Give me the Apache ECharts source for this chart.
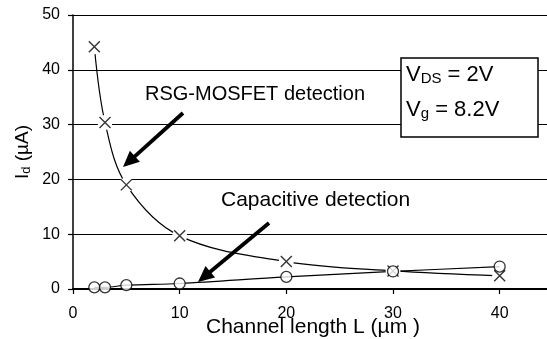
<!DOCTYPE html>
<html><head><meta charset="utf-8">
<script src="https://cdn.jsdelivr.net/npm/echarts@6/dist/echarts.min.js"></script>
<style>html,body{margin:0;padding:0;background:#fff}#c{width:547px;height:339px}</style>
</head><body><div id="c"></div>
<script>
const lengths = [2, 3, 5, 10, 20, 30, 40];
const rsgMosfet = [44.2, 30.4, 19.0, 9.7, 5.0, 3.3, 2.4];
const capacitive = [0.3, 0.3, 0.7, 1.0, 2.2, 3.2, 4.1];
const xTicks = [0, 10, 20, 30, 40];
const yTicks = [0, 10, 20, 30, 40, 50];

const FONT = "'Liberation Sans', Arial, sans-serif";
const pts = (ys) => lengths.map((x, i) => [x, ys[i]]);

function arrow(x1, y1, x2, y2) {
  const dx = x2 - x1, dy = y2 - y1, L = Math.hypot(dx, dy);
  const ux = dx / L, uy = dy / L, hl = 16, hw = 7.5;
  const bx = x2 - ux * hl, by = y2 - uy * hl;
  return [
    {type: 'line', shape: {x1: x1, y1: y1, x2: bx + ux * 2, y2: by + uy * 2}, style: {stroke: '#000', lineWidth: 3.8}},
    {type: 'polygon', shape: {points: [[x2, y2], [bx - uy * hw, by + ux * hw], [bx + uy * hw, by - ux * hw]]}, style: {fill: '#000'}}
  ];
}

const chart = echarts.init(document.getElementById('c'));
chart.setOption({
  animation: false,
  backgroundColor: '#fff',
  grid: {left: 73, top: 15, width: 480, height: 274, containLabel: false, outerBoundsMode: 'none'},
  xAxis: {
    type: 'value', min: 0, max: 45, interval: 10,
    name: 'Channel length L (µm )', nameLocation: 'middle', nameGap: 28, nameMoveOverlap: false,
    nameTextStyle: {fontFamily: FONT, fontSize: 21, color: '#000'},
    axisLine: {onZero: false, lineStyle: {color: '#000', width: 2}},
    axisTick: {show: true, length: 5, lineStyle: {color: '#000', width: 1.2}, customValues: xTicks},
    axisLabel: {fontFamily: FONT, fontSize: 16, color: '#000', margin: 17, customValues: xTicks},
    splitLine: {show: false}
  },
  yAxis: {
    type: 'value', min: 0, max: 50, interval: 10,
    name: '{a|I}{s|d}{a| (µA)}', nameLocation: 'middle', nameGap: 40, nameRotate: 90, nameMoveOverlap: false,
    nameTextStyle: {fontFamily: FONT, color: '#000',
      rich: {a: {fontFamily: FONT, fontSize: 19, color: '#000'}, s: {fontFamily: FONT, fontSize: 13, color: '#000', padding: [7, 0, 0, 0]}}},
    axisLine: {show: true, lineStyle: {color: '#000', width: 1.5}},
    axisTick: {show: true, length: 5, lineStyle: {color: '#000', width: 1.2}},
    axisLabel: {fontFamily: FONT, fontSize: 16, color: '#000', margin: 13},
    splitLine: {show: true, lineStyle: {color: '#000', width: 1}}
  },
  series: [
    {type: 'line', data: pts(rsgMosfet), smooth: 0.35, showSymbol: false, z: 2,
      lineStyle: {color: '#000', width: 1.2}},
    {type: 'line', data: pts(capacitive), smooth: 0.35, showSymbol: false, z: 2,
      lineStyle: {color: '#000', width: 1.2}},
    {type: 'scatter', data: pts(rsgMosfet), symbol: 'circle', symbolSize: 15, z: 3, silent: true,
      itemStyle: {color: '#fff', opacity: 1}},
    {type: 'scatter', data: pts(rsgMosfet), symbol: 'path://M0,0L10,10M10,0L0,10', symbolSize: 11, z: 4,
      itemStyle: {color: 'rgba(0,0,0,0)', borderColor: '#000', borderWidth: 1.4}},
    {type: 'scatter', data: pts(capacitive), symbol: 'circle', symbolSize: 11, z: 5,
      itemStyle: {color: '#fff', borderColor: '#000', borderWidth: 1.3}}
  ],
  graphic: [
    {type: 'text', left: 145, top: 84, z: 10,
      style: {text: 'RSG-MOSFET detection', font: '20px ' + FONT, fill: '#000'}},
    {type: 'text', left: 221, top: 190, z: 10,
      style: {text: 'Capacitive detection', font: '21px ' + FONT, fill: '#000'}},
    ...arrow(183, 113, 123, 167).map(e => Object.assign(e, {z: 10})),
    ...arrow(269, 223, 198, 282).map(e => Object.assign(e, {z: 10})),
    {type: 'rect', shape: {x: 401, y: 58, width: 137, height: 79}, z: 10,
      style: {fill: '#fff', stroke: '#000', lineWidth: 1.5}},
    {type: 'text', x: 406, y: 63, z: 11,
      style: {text: '{a|V}{s|DS}{a| = 2V}', rich: {a: {font: '22px ' + FONT, fill: '#000'}, s: {font: '15px ' + FONT, fill: '#000', padding: [8, 0, 0, 0]}}}},
    {type: 'text', x: 406, y: 98, z: 11,
      style: {text: '{a|V}{s|g}{a| = 8.2V}', rich: {a: {font: '22px ' + FONT, fill: '#000'}, s: {font: '15px ' + FONT, fill: '#000', padding: [8, 0, 0, 0]}}}}
  ]
});
</script></body></html>
